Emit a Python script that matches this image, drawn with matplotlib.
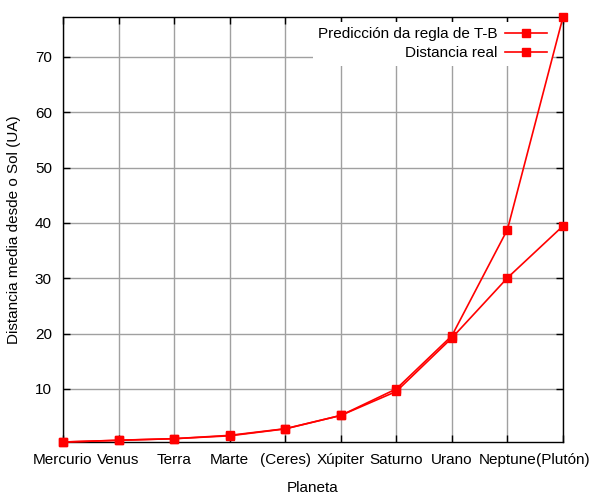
import matplotlib
matplotlib.use("Agg")
import matplotlib.pyplot as plt

planets = ["Mercurio", "Venus", "Terra", "Marte", "(Ceres)", "Xúpiter",
           "Saturno", "Urano", "Neptune", "(Plutón)"]
tb_pred = [0.4, 0.7, 1.0, 1.6, 2.8, 5.2, 10.0, 19.6, 38.8, 77.2]
real_dist = [0.39, 0.72, 1.0, 1.52, 2.77, 5.20, 9.54, 19.2, 30.06, 39.44]
yticks = [10, 20, 30, 40, 50, 60, 70]

plt.rcParams['font.family'] = ['Liberation Sans', 'DejaVu Sans']
plt.rcParams['font.size'] = 11

fig = plt.figure(figsize=(6, 5), dpi=100)
ax = fig.add_axes([63/600, 1-442/500, 500/600, 425/500])

x = list(range(len(planets)))
ax.plot(x, tb_pred, color='red', marker='s', markersize=6, lw=1.2,
        label='Predicción da regla de T-B', zorder=3, clip_on=False)
ax.plot(x, real_dist, color='red', marker='s', markersize=6, lw=1.2,
        label='Distancia real', zorder=3, clip_on=False)

ax.set_xlim(0, len(planets)-1)
ax.set_ylim(0.4, 77.2)
ax.set_xticks(x)
ax.set_xticklabels(planets)
ax.set_yticks(yticks)
ax.grid(True, color='#a0a0a0', lw=1)
ax.set_axisbelow(True)
ax.tick_params(direction='in', top=True, right=True, length=5, width=1, pad=8)
for s in ax.spines.values():
    s.set_linewidth(1)
ax.set_xlabel('Planeta', labelpad=10)
ax.set_ylabel('Distancia media desde o Sol (UA)', labelpad=10)

leg = ax.legend(loc='upper right', markerfirst=False, frameon=True,
                fancybox=False, edgecolor='none', framealpha=1,
                borderaxespad=0.3, handlelength=2.75, borderpad=0.35,
                labelspacing=0.35, handletextpad=0.5,
                bbox_to_anchor=(1 - 6/500, 1.0))
leg.set_zorder(2.5)

fig.savefig('out.png', dpi=100)
